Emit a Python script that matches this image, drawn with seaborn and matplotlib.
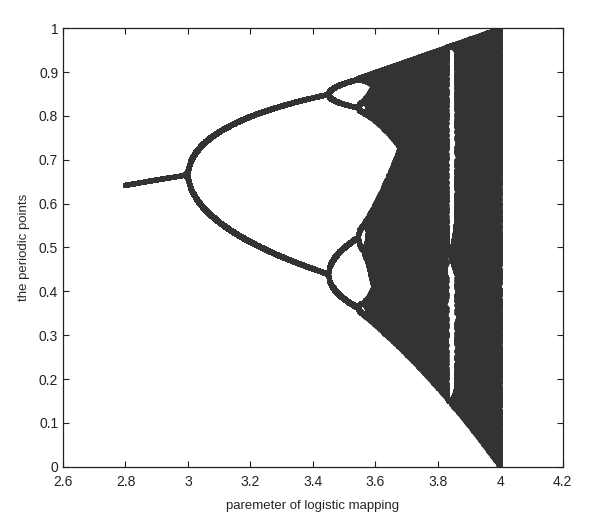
import numpy as np
import pandas as pd
import matplotlib
matplotlib.use("Agg")
import matplotlib.pyplot as plt
import seaborn as sns

# parameter range of the logistic map shown in the chart
r_start = 2.8
r_stop = 4.0
r_step = 0.001
x0 = 0.5
n_transient = 400   # iterations thrown away
n_kept = 250        # iterations plotted per parameter

x_ticks = [2.6, 2.8, 3.0, 3.2, 3.4, 3.6, 3.8, 4.0, 4.2]
x_labels = ["2.6", "2.8", "3", "3.2", "3.4", "3.6", "3.8", "4", "4.2"]
y_ticks = [0, 0.1, 0.2, 0.3, 0.4, 0.5, 0.6, 0.7, 0.8, 0.9, 1.0]
y_labels = ["0", "0.1", "0.2", "0.3", "0.4", "0.5", "0.6", "0.7", "0.8", "0.9", "1"]

# iterate x -> r x (1 - x)
r = np.arange(r_start, r_stop + r_step / 2, r_step)
x = np.full_like(r, x0)
for _ in range(n_transient):
    x = r * x * (1 - x)
rs, xs = [], []
for _ in range(n_kept):
    x = r * x * (1 - x)
    rs.append(r.copy())
    xs.append(x.copy())
df = pd.DataFrame({"r": np.concatenate(rs), "x": np.concatenate(xs)})

sns.set_style("ticks")
plt.rcParams["font.family"] = ["Liberation Sans", "DejaVu Sans"]

fig = plt.figure(figsize=(6.0, 5.21), dpi=100)
ax = fig.add_axes([0.105, 0.104, 0.833, 0.842])
sns.scatterplot(data=df, x="r", y="x", ax=ax, color="#333333", s=12,
                linewidth=0, marker="o", rasterized=True, legend=False)

ax.set_xlim(2.6, 4.2)
ax.set_ylim(0, 1)
ax.set_xticks(x_ticks)
ax.set_xticklabels(x_labels)
ax.set_yticks(y_ticks)
ax.set_yticklabels(y_labels)
ax.tick_params(direction="in", top=True, right=True, length=4, width=0.8,
               labelsize=10, colors="#222222")
ax.tick_params(axis="x", pad=6)
for sp in ax.spines.values():
    sp.set_visible(True)
    sp.set_linewidth(0.9)
    sp.set_color("#222222")
ax.set_xlabel("paremeter of logistic mapping", fontsize=9.5, labelpad=8)
ax.set_ylabel("the periodic points", fontsize=9.5, labelpad=6)

fig.savefig("out.png", dpi=100)
